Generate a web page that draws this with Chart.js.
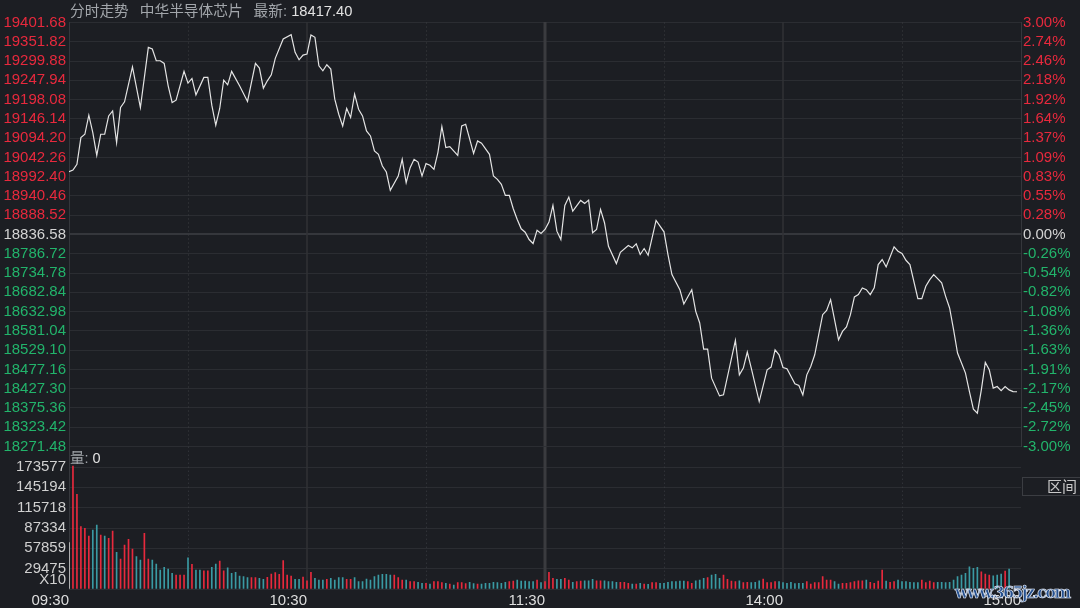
<!DOCTYPE html>
<html>
<head>
<meta charset="utf-8">
<title>分时走势 中华半导体芯片</title>
<script src="https://cdn.jsdelivr.net/npm/chart.js@4.4.1/dist/chart.umd.min.js"></script>
<style>
  body {
    margin: 0;
    width: 1080px;
    height: 608px;
    overflow: hidden;
    position: relative;
    background: #1c1e23;
    font-family: "Liberation Sans", "Noto Sans CJK SC", sans-serif;
  }
  canvas { position: absolute; left: 0; }
  #priceChart { top: 0; }
  #volChart { top: 434px; }
  .header {
    position: absolute; left: 70px; top: -1px;
    font-size: 14.7px; color: #a2a6ab; white-space: pre;
  }
  .header span { margin-left: 11px; }
  .header b { font-weight: normal; color: #e2e2e2; }
  .vol-title {
    position: absolute; left: 70px; top: 446px;
    font-size: 14.5px; color: #a2a6ab;
  }
  .vol-title b { font-weight: normal; color: #e2e2e2; }
  .range-btn {
    position: absolute; left: 1022px; top: 477px; width: 60px; height: 19px;
    border: 1px solid #3b3d42; color: #c9c9c9; font-size: 15px;
    text-align: right; line-height: 18px; padding-right: 4px; box-sizing: border-box;
  }
  .mark {
    position: absolute; left: 955px; top: 583px;
    font: bold 16px "DejaVu Serif", serif; color: #25508f;
    -webkit-text-stroke: 0.7px #e8eef8; letter-spacing: -1.7px;
  }
</style>
</head>
<body>
<canvas id="priceChart" width="1080" height="460"></canvas>
<canvas id="volChart" width="1080" height="181"></canvas>
<div class="header">分时走势<span>中华半导体芯片</span><span>最新: <b>18417.40</b></span></div>
<div class="vol-title">量: <b>0</b></div>
<div class="range-btn">区间</div>
<div class="mark">www.365jz.com</div>
<script>
// price axis (left) and percent axis (right), bottom to top
const priceMin = 18271.48;
const priceMax = 19401.68;
const priceLabels = ["18271.48", "18323.42", "18375.36", "18427.30", "18477.16", "18529.10",
  "18581.04", "18632.98", "18682.84", "18734.78", "18786.72", "18836.58", "18888.52",
  "18940.46", "18992.40", "19042.26", "19094.20", "19146.14", "19198.08", "19247.94",
  "19299.88", "19351.82", "19401.68"];
const pctLabels = ["-3.00%", "-2.72%", "-2.45%", "-2.17%", "-1.91%", "-1.63%", "-1.36%",
  "-1.08%", "-0.82%", "-0.54%", "-0.26%", "0.00%", "0.28%", "0.55%", "0.83%", "1.09%",
  "1.37%", "1.64%", "1.92%", "2.18%", "2.46%", "2.74%", "3.00%"];
const zeroIndex = 11;

// time axis, minutes from 09:30 (lunch break removed)
const timeTicks = [0, 60, 120, 180, 240];
const timeLabels = ["09:30", "10:30", "11:30", "14:00", "15:00"];

// intraday price (minute, index value)
const minutes = [0, 1, 2, 3, 4, 5, 6, 7, 8, 9, 10, 11, 12, 13, 14, 16, 18, 20, 21, 22,
  23, 24, 25, 26, 27, 29, 30, 31, 32, 34, 35, 36, 37, 38, 39, 40, 41, 43, 45, 47,
  48, 49, 50, 51, 52, 54, 56, 57, 58, 59, 60, 61, 62, 63, 64, 65, 66, 67, 68, 69,
  70, 71, 72, 73, 74, 75, 76, 77, 78, 79, 80, 81, 83, 84, 85, 86, 87, 88, 89, 90,
  91, 92, 93, 94, 95, 96, 98, 99, 100, 102, 103, 104, 106, 107, 108, 109, 110, 111, 112, 113,
  114, 115, 116, 117, 118, 119, 120, 121, 122, 123, 124, 125, 126, 127, 129, 130, 131, 132, 133, 134,
  135, 136, 138, 139, 141, 142, 143, 144, 145, 146, 148, 150, 151, 152, 154, 155, 157, 158, 159, 160,
  161, 162, 164, 165, 168, 169, 170, 171, 172, 174, 176, 177, 178, 179, 180, 181, 183, 184, 185, 186,
  187, 188, 189, 190, 191, 192, 194, 195, 196, 197, 198, 199, 200, 201, 202, 203, 204, 205, 206, 208,
  209, 210, 211, 212, 214, 215, 216, 217, 218, 220, 221, 222, 223, 224, 225, 226, 227, 228, 229, 230,
  231, 232, 233, 234, 235, 236, 237, 238, 239];
const prices = [19004.1, 19008.4, 19023.6, 19095.0, 19103.8, 19154.6, 19108.3, 19047.7, 19103.8, 19103.8,
  19152.7, 19166.1, 19081.6, 19175.1, 19190.1, 19283.6, 19175.1, 19335.5, 19330.9, 19299.7,
  19299.7, 19292.7, 19232.9, 19188.5, 19194.6, 19271.3, 19240.1, 19252.6, 19208.8, 19255.3,
  19255.3, 19181.3, 19127.8, 19172.5, 19248.1, 19235.5, 19271.3, 19232.9, 19191.2, 19292.7,
  19280.2, 19226.7, 19246.2, 19262.2, 19306.1, 19357.6, 19369.1, 19322.1, 19302.3, 19314.9,
  19317.6, 19368.3, 19362.2, 19286.3, 19272.9, 19289.0, 19277.5, 19197.3, 19157.2, 19126.0,
  19172.5, 19148.4, 19210.7, 19170.6, 19152.7, 19112.6, 19099.3, 19059.2, 19050.4, 19019.1,
  19003.1, 18954.2, 18992.4, 19037.0, 18974.7, 19014.8, 19037.0, 19029.8, 18992.4, 19025.5,
  19021.0, 19010.3, 19054.9, 19124.4, 19068.3, 19070.9, 19047.7, 19126.0, 19130.5, 19053.0,
  19085.9, 19079.8, 19050.4, 18992.4, 18983.6, 18970.2, 18940.8, 18940.8, 18905.3, 18876.7,
  18851.8, 18842.7, 18823.2, 18812.5, 18848.1, 18839.3, 18850.0, 18869.5, 18914.1, 18845.4,
  18823.2, 18914.1, 18936.3, 18898.9, 18927.4, 18919.4, 18928.2, 18841.1, 18850.0, 18903.4,
  18867.9, 18805.3, 18759.1, 18789.3, 18807.2, 18801.1, 18811.8, 18783.2, 18799.2, 18781.3,
  18874.0, 18843.8, 18783.2, 18729.7, 18689.6, 18651.4, 18689.6, 18631.7, 18600.7, 18531.2,
  18531.2, 18453.7, 18406.4, 18409.1, 18554.2, 18462.5, 18480.4, 18523.2, 18480.4, 18391.2,
  18475.9, 18483.1, 18529.3, 18516.0, 18482.0, 18478.6, 18438.5, 18433.9, 18409.1, 18462.5,
  18484.7, 18516.0, 18569.4, 18622.8, 18634.3, 18662.9, 18556.0, 18578.2, 18590.0, 18622.8,
  18670.1, 18676.3, 18694.2, 18689.6, 18676.3, 18694.2, 18756.4, 18769.8, 18750.3, 18803.7,
  18792.0, 18785.8, 18767.9, 18756.4, 18665.6, 18665.6, 18698.5, 18716.4, 18729.7, 18707.5,
  18671.7, 18640.7, 18582.8, 18520.5, 18493.8, 18467.1, 18417.9, 18370.9, 18360.2, 18422.4,
  18495.4, 18475.9, 18427.0, 18431.3, 18420.6, 18431.3, 18422.4, 18417.9, 18417.4];

// per-minute volume (shown x10) and direction: u = up, d = down, n = auction
const volumes = [
  65900, 175000, 134700, 88700, 86400, 75400, 84000, 91100, 76800, 75400,
  72100, 82500, 52200, 42700, 62600, 70700, 56900, 46000, 41300, 79300,
  42700, 41300, 35600, 27000, 30900, 28500, 22300, 19900, 19900, 19900,
  44500, 35100, 27000, 27000, 26000, 26000, 30900, 35600, 39800, 26000,
  30300, 22300, 23700, 18500, 17500, 16100, 16100, 16100, 15200, 13800,
  16600, 21300, 23200, 20900, 40300, 19900, 18500, 13800, 13800, 17100,
  11800, 23700, 15200, 12800, 12800, 13800, 15200, 12800, 16100, 16100,
  13800, 13800, 16100, 10400, 10400, 14200, 12800, 17500, 19900, 20900,
  20900, 19900, 19900, 16100, 12800, 12800, 10400, 10400, 9500, 8100,
  8100, 7100, 10400, 10400, 9000, 8100, 7100, 5700, 9000, 9000,
  7600, 9500, 7600, 7100, 7100, 8100, 8100, 9500, 9000, 8100,
  9500, 10400, 11400, 12800, 11400, 11400, 10400, 10400, 12800, 9000,
  10400, 23700, 15200, 13800, 13800, 15200, 12800, 9500, 10400, 11400,
  11800, 11800, 13800, 11800, 11800, 11800, 10400, 10400, 9500, 9500,
  9500, 8100, 7100, 7100, 8100, 7100, 6700, 9000, 9000, 8100,
  8100, 9500, 10400, 10400, 11400, 11400, 10400, 8100, 11800, 12800,
  15200, 16100, 19900, 20900, 15200, 19900, 13800, 11400, 10400, 11800,
  9000, 9500, 9000, 9500, 11800, 14200, 9000, 9000, 10400, 10400,
  9000, 8100, 9500, 7600, 8100, 8100, 10400, 7100, 9000, 9000,
  17500, 12800, 12800, 10400, 7100, 8100, 8100, 9000, 10400, 11800,
  11800, 12800, 9500, 8100, 11400, 27000, 11400, 9500, 10400, 12800,
  10400, 10400, 9500, 9000, 9000, 12800, 9000, 11400, 9000, 9500,
  9500, 9000, 9500, 12800, 17500, 19900, 22300, 31700, 29400, 30900,
  24600, 21300, 19900, 18900, 19900, 21300, 25600, 28500];
const volDir = ("nuuuuuddud" + "uuduuuuddu" + "udddddduuu" + "dudduudduu" + "dddddduudd" +
  "uuuuuuuddu" + "uudddudddd" + "uudddddddd" + "dduuuduudd" + "uduuududuu" +
  "uddudddddd" + "duudddddud" + "uuudduuduu" + "ddduuddddu" + "uudududuud" +
  "dddddduudd" + "duddduuuud" + "uuddduuuud" + "dddddduuuu" + "uuudduuuuu" +
  "uduuuuduud" + "ddddduuuud" + "dddddddddd" + "uuudddud").split("");

// volume axis labels, bottom to top
const volLabels = [["X10", ""], "29475", "57859", "87334", "115718", "145194", "173577", ""];
const volMax = 202506.5;

const RED = "#e8293d";
const GREEN = "#22b46b";
const GRID = "#2b2d32";
const FONT = '"Liberation Sans", "Noto Sans CJK SC", sans-serif';

Chart.defaults.font.family = FONT;
Chart.defaults.font.size = 15;

// vertical session lines: solid at hours, dotted at half hours, thick at lunch
const sessionLines = {
  id: "sessionLines",
  beforeDatasetsDraw(chart) {
    const { ctx, chartArea, scales } = chart;
    const top = chart.canvas.id === "priceChart" ? 22 : chartArea.top;
    ctx.save();
    [30, 90, 150, 210].forEach((m) => {
      const x = Math.round(scales.x.getPixelForValue(m)) + 0.5;
      ctx.strokeStyle = "#3a3c41";
      ctx.lineWidth = 1;
      ctx.setLineDash([1, 3]);
      ctx.beginPath();
      ctx.moveTo(x, chartArea.top);
      ctx.lineTo(x, chartArea.bottom);
      ctx.stroke();
    });
    ctx.setLineDash([]);
    [60, 120, 180].forEach((m) => {
      const x = scales.x.getPixelForValue(m);
      ctx.strokeStyle = m === 120 ? "#3a3b3f" : "#303236";
      ctx.lineWidth = m === 120 ? 3 : 1.5;
      ctx.beginPath();
      ctx.moveTo(x, top);
      ctx.lineTo(x, chartArea.bottom);
      ctx.stroke();
    });
    ctx.restore();
  },
};

function evenTicks(min, max, count) {
  return (scale) => {
    scale.ticks = [];
    for (let i = 0; i < count; i++) {
      scale.ticks.push({ value: min + (i * (max - min)) / (count - 1) });
    }
  };
}

const priceCtx = document.getElementById("priceChart").getContext("2d");
new Chart(priceCtx, {
  type: "line",
  data: {
    datasets: [
      {
        data: minutes.map((m, i) => ({ x: m, y: prices[i] })),
        borderColor: "#e4e4e4",
        borderWidth: 1.2,
        pointRadius: 0,
        tension: 0,
        yAxisID: "y",
      },
    ],
  },
  options: {
    responsive: false,
    animation: false,
    events: [],
    layout: { padding: { top: 22.5, bottom: 13.5, left: 0, right: 0 } },
    plugins: { legend: { display: false }, tooltip: { enabled: false } },
    scales: {
      x: { type: "linear", min: 0, max: 240, display: false },
      y: {
        position: "left",
        min: priceMin,
        max: priceMax,
        afterBuildTicks: evenTicks(priceMin, priceMax, priceLabels.length),
        afterFit: (s) => { s.width = 69; },
        ticks: {
          autoSkip: false,
          padding: 3,
          callback: (v, i) => priceLabels[i],
          color: (c) => (c.index > zeroIndex ? RED : c.index === zeroIndex ? "#d4d4d4" : GREEN),
        },
        grid: {
          drawTicks: false,
          color: (c) => (c.index === zeroIndex ? "#35373c" : GRID),
          lineWidth: (c) => (c.index === zeroIndex ? 2 : 1),
        },
        border: { color: "#35373c" },
      },
      y2: {
        position: "right",
        min: priceMin,
        max: priceMax,
        afterBuildTicks: evenTicks(priceMin, priceMax, pctLabels.length),
        afterFit: (s) => { s.width = 59; },
        ticks: {
          autoSkip: false,
          padding: 2,
          callback: (v, i) => pctLabels[i],
          color: (c) => (c.index > zeroIndex ? RED : c.index === zeroIndex ? "#d4d4d4" : GREEN),
        },
        grid: { display: false, drawTicks: false },
        border: { color: "#35373c" },
      },
    },
  },
  plugins: [sessionLines],
});

const volCtx = document.getElementById("volChart").getContext("2d");
new Chart(volCtx, {
  type: "bar",
  data: {
    datasets: [
      {
        data: volumes.map((v, i) => ({ x: i, y: v })),
        backgroundColor: volDir.map((d) => (d === "u" ? RED : d === "d" ? "#3a9aa3" : "#c8c8c8")),
        barThickness: 1,
      },
    ],
  },
  options: {
    responsive: false,
    animation: false,
    events: [],
    layout: { padding: { top: 12.7, bottom: 0, left: 0, right: 59 } },
    plugins: { legend: { display: false }, tooltip: { enabled: false } },
    scales: {
      x: {
        type: "linear",
        min: 0,
        max: 240,
        offset: false,
        afterBuildTicks: (s) => { s.ticks = timeTicks.map((t) => ({ value: t })); },
        afterFit: (s) => { s.height = 26; },
        ticks: {
          align: "end",
          autoSkip: false,
          maxRotation: 0,
          padding: 3,
          color: "#dedede",
          callback: (v, i) => timeLabels[i],
        },
        grid: { display: false, drawTicks: false },
        border: { display: false },
      },
      y: {
        position: "left",
        min: 0,
        max: volMax,
        afterBuildTicks: evenTicks(0, volMax, volLabels.length),
        afterFit: (s) => { s.width = 69; },
        ticks: {
          autoSkip: false,
          padding: 3,
          color: "#d0d0d0",
          callback: (v, i) => volLabels[i],
        },
        grid: { drawTicks: false, color: GRID },
        border: { color: "#35373c" },
      },
    },
  },
  plugins: [sessionLines],
});
</script>
</body>
</html>
